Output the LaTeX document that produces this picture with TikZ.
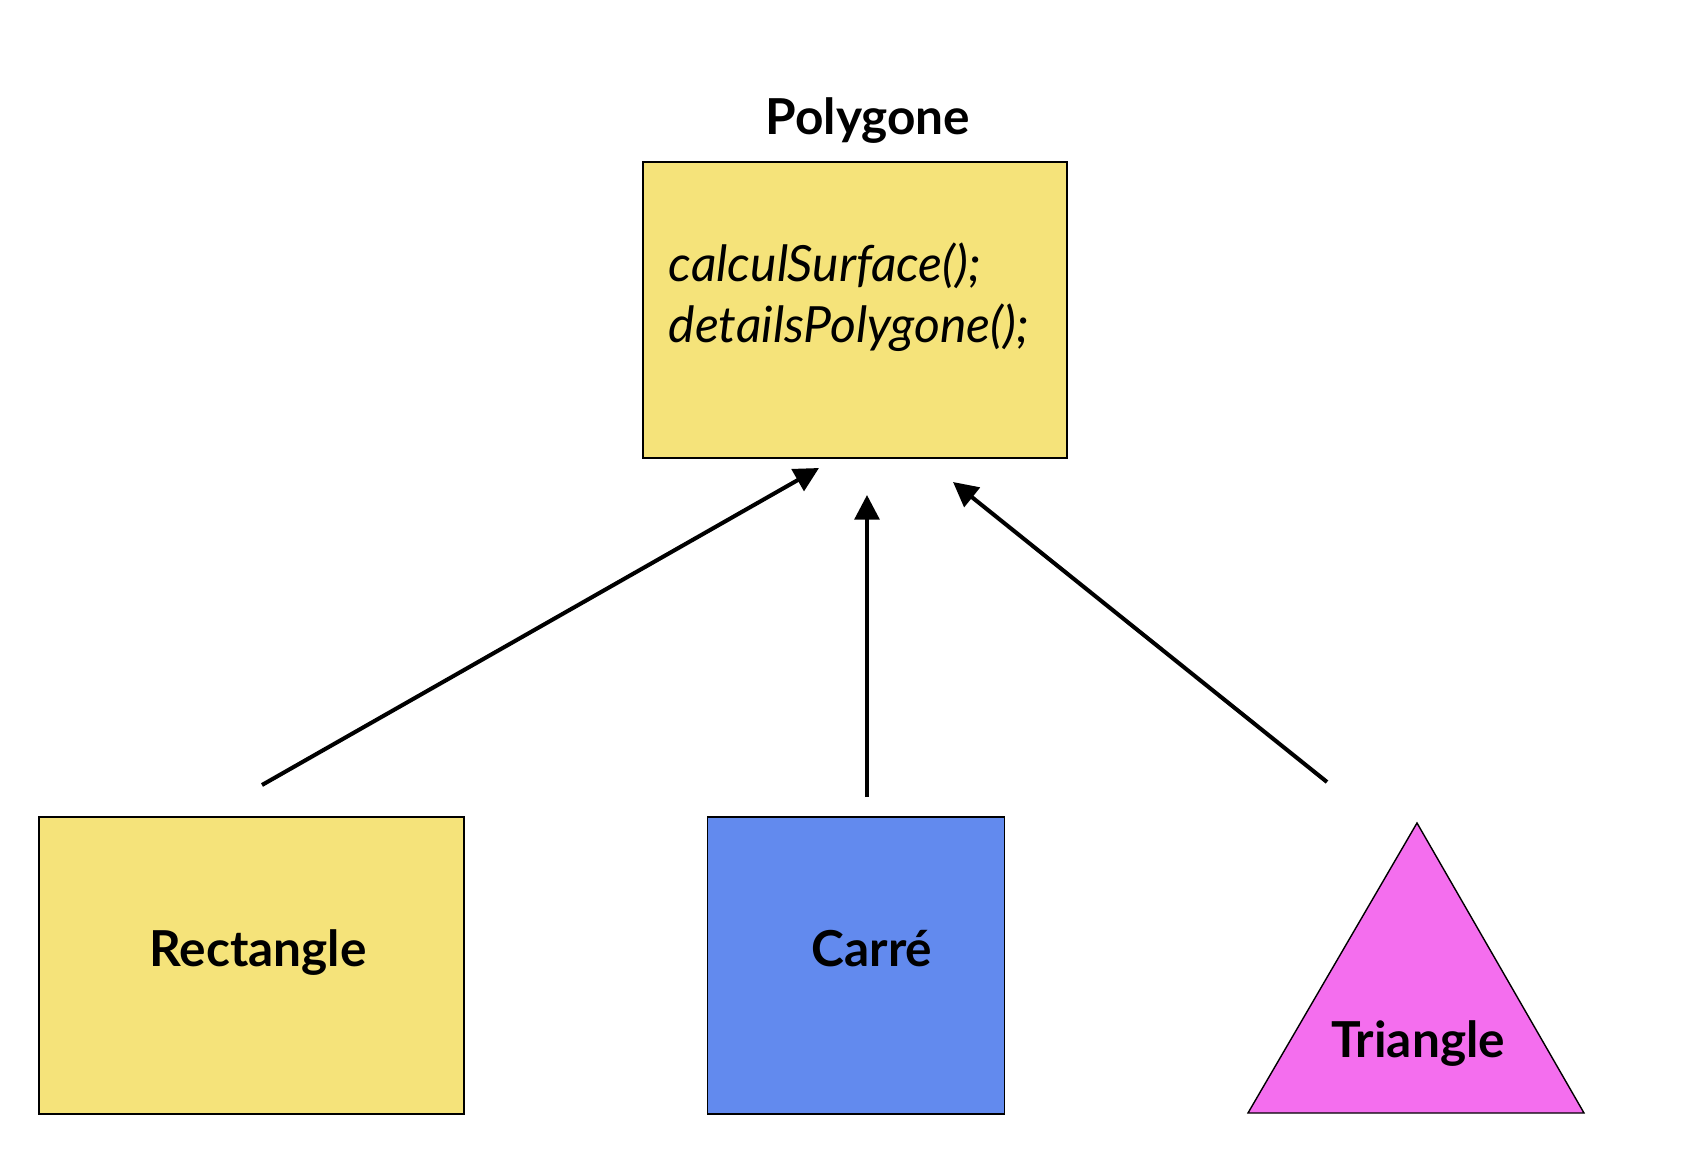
\documentclass[tikz,border=0pt]{standalone}
\usepackage{fontspec}
\setmainfont{Lato}
\usetikzlibrary{arrows.meta}
\usetikzlibrary{positioning}

\definecolor{boxyellow}{HTML}{F5E37A}
\definecolor{boxblue}{HTML}{628AEE}
\definecolor{boxpink}{HTML}{F46EEE}

\begin{document}
\begin{tikzpicture}[
  > = {Triangle[length=7pt,width=7pt]},
  shapebox/.style = {draw,line width=0.4pt,inner sep=0pt},
  label text/.style = {font=\fontsize{14.1}{16}\selectfont\bfseries,anchor=base,inner sep=0pt},
  method/.style = {font=\fontsize{14.2}{17}\selectfont\itshape,anchor=base west,inner sep=0pt},
  link/.style = {->,line width=1.15pt}
  ]
	\useasboundingbox (0,0) rectangle (16.85,11.74);

	% parent class
	\node[shapebox,fill=boxyellow,minimum width=4.24cm,minimum height=2.96cm] (poly) at (8.55,8.64) {};
	\node[label text] (polyname) at (8.68,10.39) {Polygone};
	\node[method] (m1) at (6.68,8.92) {calculSurface();};
	\node[method] (m2) at (6.68,8.31) {detailsPolygone();};

	% children
	\node[shapebox,fill=boxyellow,minimum width=4.25cm,minimum height=2.97cm] (rect) at (2.515,2.085) {};
	\node[shapebox,fill=boxblue,minimum width=2.97cm,minimum height=2.97cm] (carre) at (8.56,2.085) {};
	\draw[line width=0.4pt,fill=boxpink] (14.17,3.51) coordinate (tri) -- (15.84,0.61) -- (12.48,0.61) -- cycle;

	\node[label text] (rectname) at (2.58,2.08) {Rectangle};
	\node[label text] (carrename) at (8.72,2.08) {Carré};
	\node[label text] (triname) at (14.18,1.17) {Triangle};

	% arrow ends
	\coordinate (@1) at (2.62,3.89);
	\coordinate (@2) at (8.19,7.06);
	\coordinate (@3) at (8.67,3.77);
	\coordinate (@4) at (8.67,6.79);
	\coordinate (@5) at (13.27,3.92);
	\coordinate (@6) at (9.53,6.92);

	\draw[link] (@1) -- (@2);
	\draw[link] (@3) -- (@4);
	\draw[link] (@5) -- (@6);

\end{tikzpicture}
\end{document}
